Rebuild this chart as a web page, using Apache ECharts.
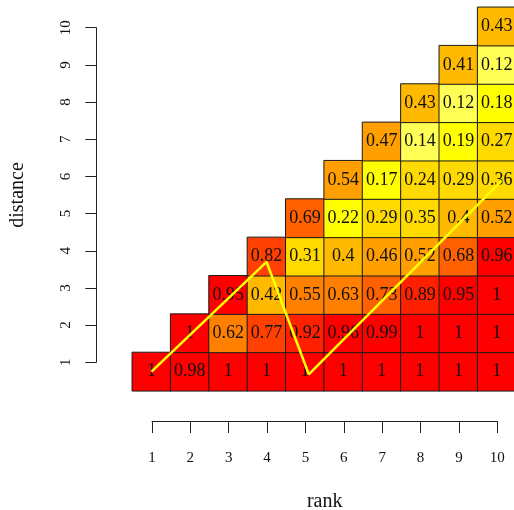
<!DOCTYPE html>
<html>
<head>
<meta charset="utf-8">
<script src="https://cdn.jsdelivr.net/npm/echarts@6/dist/echarts.min.js"></script>
<style>html,body{margin:0;padding:0;background:#fff}#c{width:514px;height:510px}</style>
</head>
<body>
<div id="c"></div>
<script>
// ---- data ----
const ranks = ['1','2','3','4','5','6','7','8','9','10'];
const distances = ['1','2','3','4','5','6','7','8','9','10'];
const tickLabels = [1,2,3,4,5,6,7,8,9,10];
// values per distance, starting at rank = distance
const dist1  = [1, 0.98, 1, 1, 1, 1, 1, 1, 1, 1];
const dist2  = [1, 0.62, 0.77, 0.92, 0.96, 0.99, 1, 1, 1];
const dist3  = [0.95, 0.42, 0.55, 0.63, 0.73, 0.89, 0.95, 1];
const dist4  = [0.82, 0.31, 0.4, 0.46, 0.52, 0.68, 0.96];
const dist5  = [0.69, 0.22, 0.29, 0.35, 0.4, 0.52];
const dist6  = [0.54, 0.17, 0.24, 0.29, 0.36];
const dist7  = [0.47, 0.14, 0.19, 0.27];
const dist8  = [0.43, 0.12, 0.18];
const dist9  = [0.41, 0.12];
const dist10 = [0.43];
const rows = [dist1, dist2, dist3, dist4, dist5, dist6, dist7, dist8, dist9, dist10];
// yellow path (rank, distance)
const pathRank = [1, 4, 5.1, 10.13];
const pathDist = [1, 3.86, 0.93, 5.98];

const cells = [];
rows.forEach((row, d) => row.forEach((v, k) => cells.push([d + k, d, v])));
const pathData = pathRank.map((r, i) => [r, pathDist[i]]);

const FONT = '"Liberation Serif", "DejaVu Serif", serif';
const chart = echarts.init(document.getElementById('c'), null, {renderer: 'canvas'});
const cellW = 38.37, cellH = 38.35;
chart.setOption({
  animation: false,
  backgroundColor: '#ffffff',
  grid: [
    {left: 132.3, top: 7.3, width: cellW * 10, height: cellH * 10, outerBoundsMode: 'none', containLabel: false},
    {left: 152, top: 27.7, width: 345.3, height: 334.6, outerBoundsMode: 'none', containLabel: false},
    {left: 132.3, top: 7.3, width: cellW * 10, height: cellH * 10, outerBoundsMode: 'none', containLabel: false}
  ],
  xAxis: [
    {type: 'category', gridIndex: 0, data: ranks, show: false},
    {type: 'value', gridIndex: 1, min: 1, max: 10, interval: 1, position: 'bottom', offset: 58.7,
     axisLine: {show: true, lineStyle: {color: '#222', width: 1}},
     axisTick: {show: true, length: 12, lineStyle: {color: '#222'}},
     splitLine: {show: false},
     axisLabel: {margin: 30, fontFamily: FONT, fontSize: 15, color: '#111',
                 formatter: v => String(tickLabels[v - 1])},
     name: 'rank', nameLocation: 'middle', nameGap: 71,
     nameTextStyle: {fontFamily: FONT, fontSize: 20, color: '#111'}},
    {type: 'value', gridIndex: 2, min: 0.5, max: 10.5, show: false}
  ],
  yAxis: [
    {type: 'category', gridIndex: 0, data: distances, show: false},
    {type: 'value', gridIndex: 1, min: 1, max: 10, interval: 1, position: 'left', offset: 55.7,
     axisLine: {show: true, lineStyle: {color: '#222', width: 1}},
     axisTick: {show: true, length: 11, lineStyle: {color: '#222'}},
     splitLine: {show: false},
     axisLabel: {margin: 23, rotate: 90, fontFamily: FONT, fontSize: 15, color: '#111',
                 formatter: v => String(tickLabels[v - 1])},
     name: 'distance', nameLocation: 'middle', nameGap: 69,
     nameTextStyle: {fontFamily: FONT, fontSize: 20, color: '#111'}},
    {type: 'value', gridIndex: 2, min: 0.5, max: 10.5, show: false}
  ],
  visualMap: {
    type: 'piecewise', show: false, seriesIndex: 0, dimension: 2,
    pieces: [
      {gte: 0.93, color: '#FF0000'},
      {gte: 0.85, lt: 0.93, color: '#FF2000'},
      {gte: 0.75, lt: 0.85, color: '#FF4000'},
      {gte: 0.66, lt: 0.75, color: '#FF6000'},
      {gte: 0.55, lt: 0.66, color: '#FF8000'},
      {gte: 0.44, lt: 0.55, color: '#FF9F00'},
      {gte: 0.37, lt: 0.44, color: '#FFBA00'},
      {gte: 0.23, lt: 0.37, color: '#FFDA00'},
      {gte: 0.15, lt: 0.23, color: '#FFFF00'},
      {lt: 0.15, color: '#FFFF55'}
    ]
  },
  series: [
    {type: 'heatmap', xAxisIndex: 0, yAxisIndex: 0, data: cells,
     itemStyle: {borderColor: '#1a1a1a', borderWidth: 1},
     label: {show: true, fontFamily: FONT, fontSize: 18, color: '#111',
             formatter: p => String(p.value[2])},
     emphasis: {disabled: true}},
    {type: 'line', xAxisIndex: 2, yAxisIndex: 2, data: pathData, symbol: 'none',
     lineStyle: {color: '#FFFF00', width: 2.5}, z: 5}
  ]
});
</script>
</body>
</html>
